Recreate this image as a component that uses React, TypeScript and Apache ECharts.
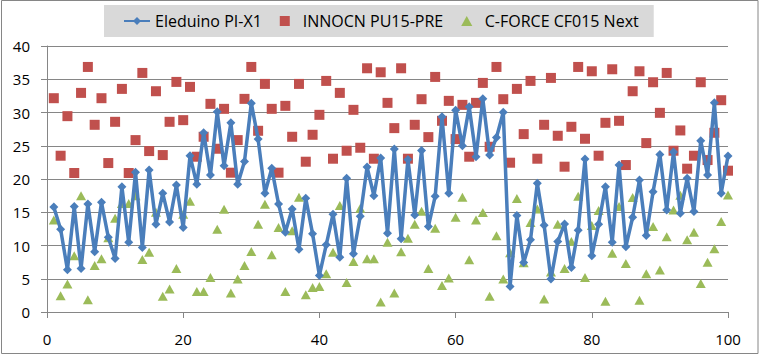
import React, { useEffect, useRef } from "react";
import * as echarts from "echarts";

const seriesNames = ["Eleduino PI-X1", "INNOCN PU15-PRE", "C-FORCE CF015 Next"];

const eleduino = [
  15.8, 12.45, 6.35, 15.85, 6.55, 16.25, 9.05, 16.5, 11.25, 8.05,
  18.85, 10.5, 21, 9.7, 21.35, 13.2, 17.85, 13.55, 19.1, 12.7,
  23.5, 19.2, 26.95, 20.6, 30.1, 22, 28.45, 19.2, 22.65, 31.4,
  26, 17.85, 21.6, 16.25, 12, 15.5, 9.45, 17.1, 11.75, 5.5,
  10.1, 14.7, 8.25, 20.1, 8.75, 14.4, 21.8, 17.5, 23.15, 11.85,
  24.5, 11, 22.95, 14.6, 24.3, 12.85, 17.4, 29.35, 17.85, 30.35,
  25, 30.85, 23.35, 32.05, 23.6, 26.25, 30.05, 3.85, 14.5, 7.45,
  10.85, 19.35, 13.05, 4.95, 10.6, 13.25, 6.7, 12.3, 23, 8.45,
  13.2, 18.85, 10.5, 22.1, 9.8, 14.25, 19.85, 11.5, 18.1, 23.7,
  15.35, 24.05, 14.85, 20.1, 15.1, 25.75, 20.6, 31.45, 17.85, 23.45,
];

const innocn = [
  32.15, 23.5, 29.45, 20.9, 32.95, 36.85, 28.15, 32.15, 22.4, 28.6,
  33.55, 20.9, 25.85, 35.95, 24.2, 33.2, 23.6, 28.6, 34.6, 28.85,
  33.85, 23.35, 26.35, 31.3, 24.55, 30.55, 20.95, 25.85, 32.05, 36.85,
  27.25, 34.3, 30.55, 20.95, 31, 26.35, 34.3, 22.6, 26.65, 29.65,
  34.75, 23.05, 32.95, 24.25, 30.4, 24.7, 36.65, 23.05, 36.05, 31.45,
  27.65, 36.65, 23.05, 28.15, 32, 26.3, 35.35, 28.75, 31.75, 26,
  31.15, 23.35, 31.45, 34.45, 24.85, 36.85, 32, 22.45, 33.55, 26.75,
  34.75, 23.05, 28.15, 35.2, 26.5, 21.85, 27.85, 36.85, 26.05, 36.2,
  23.5, 28.45, 36.5, 28.75, 22.1, 33.2, 36.2, 25.4, 34.55, 29.95,
  35.95, 24.25, 27.3, 21.55, 23.5, 34.55, 22.85, 26.95, 31.85, 21.25,
];

const cforce = [
  13.85, 2.45, 4.2, 8.45, 17.5, 1.85, 7, 8, 11.15, 14.1,
  16.3, 16.3, 17.5, 7.9, 9, 15, 2.35, 3.45, 6.55, 14.7,
  16.65, 3.1, 3.1, 5.2, 12.45, 15.45, 2.85, 4.95, 7, 9.1,
  13.2, 16.2, 8.6, 12.7, 3.1, 12.2, 17.25, 2.6, 3.7, 3.85,
  5.75, 9, 16, 4.45, 7.6, 15.6, 8, 8, 1.5, 10.5,
  2.85, 9.05, 11.1, 13.2, 15.15, 6.55, 12.6, 4, 5.1, 14.25,
  17.25, 7.85, 13.85, 14.95, 2.35, 11.45, 4.95, 8.9, 17.05, 7.4,
  13.45, 15.5, 1.95, 6, 13.2, 6.55, 10.6, 17.4, 5.2, 13,
  15.25, 1.6, 8.85, 15.85, 7.3, 17.2, 1.75, 5.75, 12.85, 6.3,
  11.3, 15.35, 17.55, 10.85, 12, 4.3, 7.5, 9.5, 13.6, 17.6,
];

const xTicks = { min: 0, max: 100, interval: 20 };
const yTicks = { min: 0, max: 40, interval: 5 };

const toPairs = (arr: number[]) => arr.map((v, i) => [i + 1, v]);

export default function App() {
  const ref = useRef<HTMLDivElement>(null);
  useEffect(() => {
    document.body.style.margin = "0";
    if (!ref.current) return;
    const chart = echarts.init(ref.current, null, { renderer: "svg" });
    const font = "'Open Sans', 'Noto Sans', sans-serif";
    const grey = "#868686";
    chart.setOption({
      animation: false,
      backgroundColor: "#ffffff",
      textStyle: { fontFamily: font },
      graphic: [
        {
          type: "rect",
          silent: true,
          z: -10,
          shape: { x: 1.5, y: 0.5, width: 756.5, height: 353 },
          style: { fill: "none", stroke: grey, lineWidth: 1 },
        },
      ],
      legend: {
        left: 104,
        top: 5,
        backgroundColor: "#D9D9D9",
        padding: [8, 15, 8, 19],
        itemGap: 18,
        itemWidth: 26,
        itemHeight: 10,
        symbolKeepAspect: true,
        textStyle: { fontSize: 16, color: "#000", fontFamily: font, lineHeight: 16 },
        data: [
          { name: seriesNames[0] },
          { name: seriesNames[1], icon: "path://M0 0H10V10H0Z" },
          { name: seriesNames[2], icon: "path://M5 0L10 9H0Z" },
        ],
      },
      grid: { left: 47, right: 32, top: 46, bottom: 43 },
      xAxis: {
        type: "value",
        min: xTicks.min,
        max: xTicks.max,
        interval: xTicks.interval,
        axisLine: { show: true, lineStyle: { color: grey, width: 1 } },
        axisTick: { show: true, inside: false, length: 6, lineStyle: { color: grey } },
        axisLabel: { color: "#000", fontSize: 15, margin: 19, fontFamily: font },
        splitLine: { show: false },
      },
      yAxis: {
        type: "value",
        min: yTicks.min,
        max: yTicks.max,
        interval: yTicks.interval,
        axisLine: { show: true, lineStyle: { color: grey, width: 1 } },
        axisTick: { show: true, inside: false, length: 6, lineStyle: { color: grey } },
        axisLabel: { color: "#000", fontSize: 15, margin: 17, fontFamily: font },
        splitLine: { show: true, lineStyle: { color: grey, width: 1 } },
      },
      series: [
        {
          name: seriesNames[0],
          type: "line",
          data: toPairs(eleduino),
          symbol: "diamond",
          symbolSize: 9,
          itemStyle: { color: "#4A7EBB" },
          lineStyle: { color: "#4A7EBB", width: 3.5 },
        },
        {
          name: seriesNames[1],
          type: "scatter",
          data: toPairs(innocn),
          symbol: "rect",
          symbolSize: 10,
          itemStyle: { color: "#C0504D", opacity: 1 },
        },
        {
          name: seriesNames[2],
          type: "scatter",
          data: toPairs(cforce),
          symbol: "triangle",
          symbolSize: [10, 9],
          itemStyle: { color: "#9BBB59", opacity: 1 },
        },
      ],
    });
    return () => chart.dispose();
  }, []);
  return (
    <div
      ref={ref}
      style={{ position: "absolute", left: 0, top: 0, width: 760, height: 355 }}
    />
  );
}
